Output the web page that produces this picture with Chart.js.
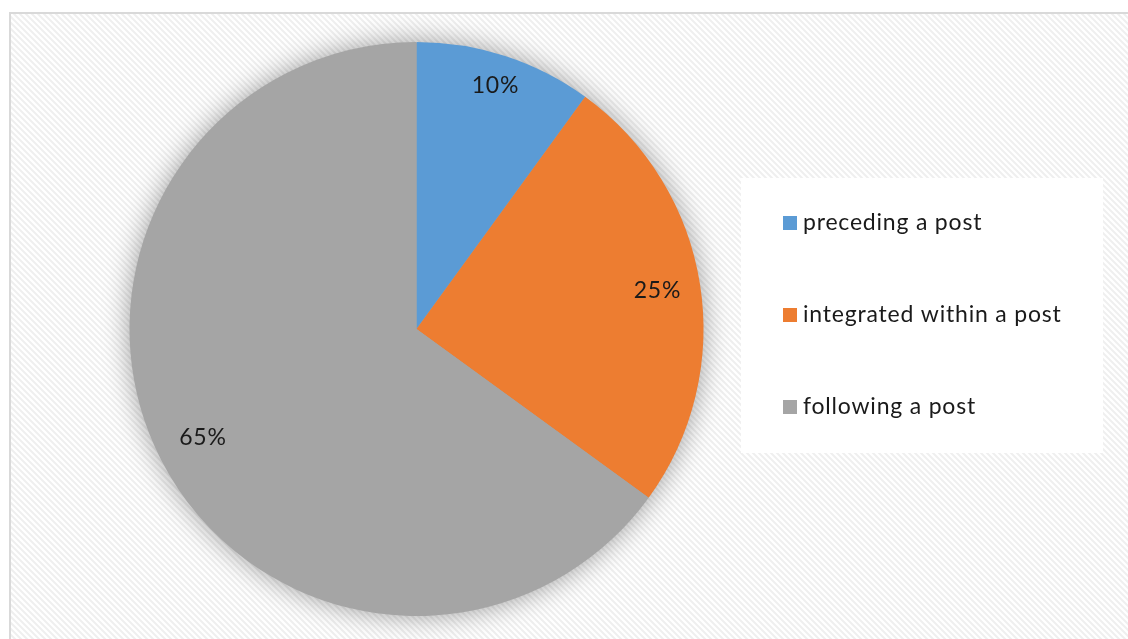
<!DOCTYPE html>
<html>
<head>
<meta charset="utf-8">
<script src="https://cdn.jsdelivr.net/npm/chart.js@4"></script>
<style>
  html, body { margin: 0; padding: 0; background: #ffffff; }
  #wrap { width: 1128px; height: 639px; position: relative; }
</style>
</head>
<body>
<div id="wrap"><canvas id="pieChart" width="1128" height="639"></canvas></div>
<script>
// Chart data
const categories = ["preceding a post", "integrated within a post", "following a post"];
const shares = [10, 25, 65];
const sliceColors = ["#5b9bd5", "#ed7d31", "#a5a5a5"];

const FONT = "Lato, 'Open Sans', sans-serif";
// how far out each percent label sits (fraction of radius)
const labelDepth = [0.89, 0.85, 0.835];

// diagonal hatch tile like the office "light diagonal" fill
function makeHatch(ctx) {
  const tile = document.createElement("canvas");
  tile.width = 6; tile.height = 6;
  const t = tile.getContext("2d");
  t.fillStyle = "#ffffff";
  t.fillRect(0, 0, 6, 6);
  t.strokeStyle = "#efefef";
  t.lineWidth = 2;
  t.beginPath();
  t.moveTo(-1, -1); t.lineTo(7, 7);
  t.moveTo(-4, 2); t.lineTo(4, 10);
  t.moveTo(2, -4); t.lineTo(10, 4);
  t.stroke();
  return ctx.createPattern(tile, "repeat");
}

/* ---------------------------------------------------------
   Frame, hatched background and pie shadow
--------------------------------------------------------- */
const framePlugin = {
  id: "frame",
  beforeDraw(chart) {
    const ctx = chart.ctx;
    ctx.save();
    ctx.fillStyle = "#ffffff";
    ctx.fillRect(0, 0, chart.width, chart.height);
    ctx.fillStyle = makeHatch(ctx);
    ctx.fillRect(10, 13, chart.width - 10, chart.height - 13);
    ctx.strokeStyle = "#d9d9d9";
    ctx.lineWidth = 2;
    ctx.beginPath();
    ctx.moveTo(10, chart.height);
    ctx.lineTo(10, 13);
    ctx.lineTo(chart.width, 13);
    ctx.stroke();

    // white legend panel
    ctx.fillStyle = "#ffffff";
    ctx.fillRect(741, 178, 362, 275);
    ctx.restore();
  },
  beforeDatasetsDraw(chart) {
    const arc = chart.getDatasetMeta(0).data[0];
    if (!arc) return;
    const ctx = chart.ctx;
    ctx.save();
    ctx.shadowColor = "rgba(0,0,0,0.4)";
    ctx.shadowBlur = 28;
    ctx.fillStyle = "#a5a5a5";
    ctx.beginPath();
    ctx.arc(arc.x, arc.y, arc.outerRadius - 1, 0, Math.PI * 2);
    ctx.fill();
    ctx.restore();
  }
};

/* ---------------------------------------------------------
   Percent labels inside slices + legend on the right
--------------------------------------------------------- */
const labelPlugin = {
  id: "sliceLabels",
  afterDatasetsDraw(chart) {
    const ctx = chart.ctx;
    const meta = chart.getDatasetMeta(0);
    ctx.save();
    ctx.font = "23px " + FONT;
    ctx.letterSpacing = "0.8px";
    ctx.fillStyle = "#1a1a1a";
    ctx.textAlign = "center";
    ctx.textBaseline = "middle";
    meta.data.forEach((arc, i) => {
      const mid = (arc.startAngle + arc.endAngle) / 2;
      const r = arc.outerRadius * labelDepth[i];
      ctx.fillText(shares[i] + "%", arc.x + Math.cos(mid) * r, arc.y + Math.sin(mid) * r);
    });

    // legend
    ctx.textAlign = "left";
    categories.forEach((name, i) => {
      const y = 223 + i * 92;
      ctx.fillStyle = sliceColors[i];
      ctx.fillRect(783, y - 7, 14, 14);
      ctx.fillStyle = "#1a1a1a";
      ctx.fillText(name, 803, y);
    });
    ctx.restore();
  }
};

new Chart(document.getElementById("pieChart"), {
  type: "pie",
  data: {
    labels: categories,
    datasets: [{
      data: shares,
      backgroundColor: sliceColors,
      borderWidth: 0
    }]
  },
  options: {
    responsive: false,
    animation: false,
    layout: { padding: { left: 129, top: 42, right: 424, bottom: 23 } },
    plugins: {
      legend: { display: false },
      tooltip: { enabled: false }
    }
  },
  plugins: [framePlugin, labelPlugin]
});
</script>
</body>
</html>
